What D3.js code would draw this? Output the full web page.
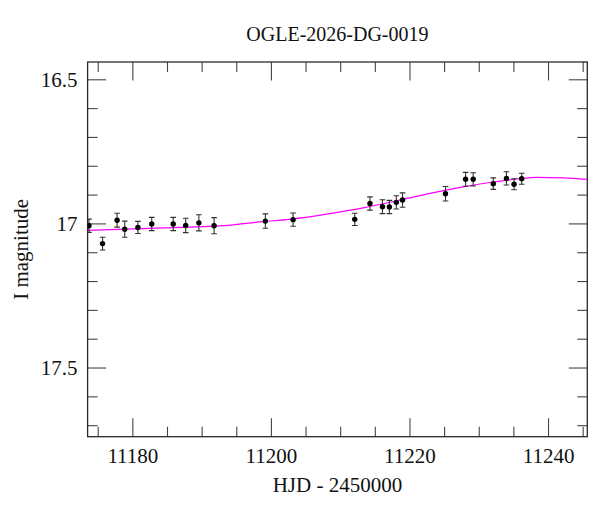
<!DOCTYPE html>
<html>
<head>
<meta charset="utf-8">
<script src="https://cdn.jsdelivr.net/npm/d3@7"></script>
<style>
  body { margin: 0; background: #fff; }
  svg { display: block; }
</style>
</head>
<body>
<div id="container"></div>
<script>
// observations: HJD - 2450000, I magnitude, error
let hjd = [11173.74, 11175.7, 11177.8, 11178.9, 11180.8, 11182.8, 11185.9, 11187.7, 11189.6, 11191.8,
           11199.2, 11203.2, 11212.1, 11214.3, 11216.1, 11217.1, 11218.1, 11219.0, 11225.2, 11228.1,
           11229.2, 11232.1, 11234.0, 11235.1, 11236.2];
let mag = [17.008, 17.070, 16.989, 17.020, 17.014, 17.002, 17.002, 17.007, 16.998, 17.008,
           16.992, 16.987, 16.986, 16.931, 16.942, 16.943, 16.927, 16.919, 16.897, 16.847,
           16.847, 16.862, 16.844, 16.864, 16.845];
let magErr = [0.023, 0.022, 0.024, 0.028, 0.021, 0.023, 0.023, 0.025, 0.028, 0.028,
              0.025, 0.023, 0.021, 0.023, 0.024, 0.023, 0.023, 0.025, 0.025, 0.024,
              0.023, 0.020, 0.023, 0.019, 0.019];

// model curve
let modelT = [11173.5, 11182.5, 11193.2, 11198.75, 11202.7, 11208.5, 11213.3, 11218.1, 11222.95,
              11227.75, 11231.6, 11235.5, 11238.35, 11242.2, 11245.7];
let modelMag = [17.024, 17.017, 17.008, 16.994, 16.986, 16.966, 16.946, 16.922, 16.896,
                16.873, 16.858, 16.846, 16.840, 16.842, 16.847];

let xMajor = [11180, 11200, 11220, 11240];
let xMinor = [11175, 11185, 11190, 11195, 11205, 11210, 11215, 11225, 11230, 11235, 11245];
let yMajor = [16.5, 17, 17.5];
let yMinor = [16.6, 16.7, 16.8, 16.9, 17.1, 17.2, 17.3, 17.4, 17.6, 17.7];

let title = "OGLE-2026-DG-0019";
let xLabel = "HJD - 2450000";
let yLabel = "I magnitude";

let w = 600;
let h = 512;
let pLeft = 87.6, pRight = 587.3, pTop = 62, pBottom = 436.7;
let font = "'Liberation Serif', 'DejaVu Serif', serif";
let frameColor = "#2a2a2a";
let tickColor = "#444";

let data = hjd.map(function(d, i){ return {t: d, m: mag[i], e: magErr[i]}; });
let model = modelT.map(function(d, i){ return {t: d, m: modelMag[i]}; });

let viz = d3.select("#container")
  .append("svg")
    .attr("width", w)
    .attr("height", h)
    .style("font-family", font)
;

let xScale = d3.scaleLinear().domain([11173.54, 11245.67]).range([pLeft, pRight]);
let yScale = d3.scaleLinear().domain([16.44, 17.74]).range([pTop, pBottom]);

viz.append("clipPath").attr("id", "plotClip")
  .append("rect")
    .attr("x", pLeft).attr("y", pTop)
    .attr("width", pRight - pLeft).attr("height", pBottom - pTop)
;

// axes: ticks pointing inward on all four sides
function styleAxis(g){
  g.select(".domain").remove();
  g.selectAll("line").attr("stroke", tickColor).attr("stroke-width", 1.1);
  g.selectAll("text").attr("font-family", font).attr("font-size", 21).attr("fill", "#111");
}

let xBottom = viz.append("g").attr("transform", "translate(0," + pBottom + ")");
xBottom.append("g").call(d3.axisBottom(xScale).tickValues(xMinor).tickSize(-10).tickFormat("")).call(styleAxis);
xBottom.append("g").call(d3.axisBottom(xScale).tickValues(xMajor).tickSize(-18.5).tickPadding(11).tickFormat(d3.format("d"))).call(styleAxis);

let xTop = viz.append("g").attr("transform", "translate(0," + pTop + ")");
xTop.append("g").call(d3.axisTop(xScale).tickValues(xMinor).tickSize(-10).tickFormat("")).call(styleAxis);
xTop.append("g").call(d3.axisTop(xScale).tickValues(xMajor).tickSize(-18.5).tickFormat("")).call(styleAxis);

let yLeft = viz.append("g").attr("transform", "translate(" + pLeft + ",0)");
yLeft.append("g").call(d3.axisLeft(yScale).tickValues(yMinor).tickSize(-10).tickFormat("")).call(styleAxis);
yLeft.append("g").call(d3.axisLeft(yScale).tickValues(yMajor).tickSize(-18.5).tickPadding(10).tickFormat(d3.format("~g"))).call(styleAxis);

let yRight = viz.append("g").attr("transform", "translate(" + pRight + ",0)");
yRight.append("g").call(d3.axisRight(yScale).tickValues(yMinor).tickSize(-10).tickFormat("")).call(styleAxis);
yRight.append("g").call(d3.axisRight(yScale).tickValues(yMajor).tickSize(-18.5).tickFormat("")).call(styleAxis);

// frame
viz.append("rect")
  .attr("x", pLeft).attr("y", pTop)
  .attr("width", pRight - pLeft).attr("height", pBottom - pTop)
  .attr("fill", "none")
  .attr("stroke", frameColor)
  .attr("stroke-width", 1.3)
;

let plot = viz.append("g").attr("clip-path", "url(#plotClip)");

// model curve
let line = d3.line()
  .x(function(d){ return xScale(d.t); })
  .y(function(d){ return yScale(d.m); })
  .curve(d3.curveMonotoneX)
;
plot.append("path")
  .datum(model)
  .attr("d", line)
  .attr("fill", "none")
  .attr("stroke", "#ff00ff")
  .attr("stroke-width", 1.2)
;

// error bars and points
let pts = plot.selectAll(".datapoint").data(data).enter()
  .append("g").classed("datapoint", true)
  .attr("transform", function(d){ return "translate(" + xScale(d.t) + ",0)"; })
;
pts.append("line")
  .attr("x1", 0).attr("x2", 0)
  .attr("y1", function(d){ return yScale(d.m - d.e); })
  .attr("y2", function(d){ return yScale(d.m + d.e); })
  .attr("stroke", "#333").attr("stroke-width", 1.1)
;
pts.selectAll(".cap").data(function(d){ return [d.m - d.e, d.m + d.e]; }).enter()
  .append("line").classed("cap", true)
  .attr("x1", -2.8).attr("x2", 2.8)
  .attr("y1", function(v){ return yScale(v); })
  .attr("y2", function(v){ return yScale(v); })
  .attr("stroke", "#333").attr("stroke-width", 1.1)
;
pts.append("circle")
  .attr("cx", 0)
  .attr("cy", function(d){ return yScale(d.m); })
  .attr("r", 2.7)
  .attr("fill", "#000")
;

// labels
viz.append("text")
  .attr("x", (pLeft + pRight) / 2).attr("y", 40.5)
  .attr("text-anchor", "middle")
  .attr("font-size", 20)
  .attr("fill", "#111")
  .text(title)
;
viz.append("text")
  .attr("x", (pLeft + pRight) / 2).attr("y", 492)
  .attr("text-anchor", "middle")
  .attr("font-size", 21)
  .attr("fill", "#111")
  .text(xLabel)
;
viz.append("text")
  .attr("transform", "translate(28," + ((pTop + pBottom) / 2) + ") rotate(-90)")
  .attr("text-anchor", "middle")
  .attr("font-size", 21)
  .attr("fill", "#111")
  .text(yLabel)
;
</script>
</body>
</html>
